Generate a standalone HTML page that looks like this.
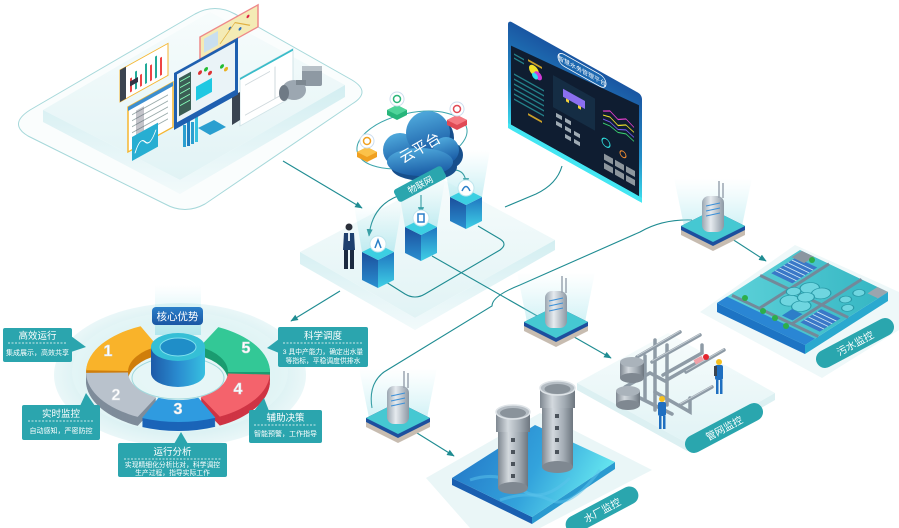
<!DOCTYPE html>
<html><head><meta charset="utf-8">
<style>
html,body{margin:0;padding:0;background:#fff;}
svg{display:block;}
text{font-family:"Liberation Sans","Noto Sans CJK SC",sans-serif;}
</style></head><body>
<svg width="899" height="528" viewBox="0 0 899 528" xmlns="http://www.w3.org/2000/svg">
<defs>
<marker id="ar" viewBox="0 0 10 10" refX="9" refY="5" markerWidth="7" markerHeight="7" orient="auto"><path d="M0,1 L10,5 L0,9 Z" fill="#1f8c92"/></marker>
<linearGradient id="beam" x1="0" y1="0" x2="0" y2="1"><stop offset="0" stop-color="#9fe6ee" stop-opacity="0"/><stop offset="1" stop-color="#7fd9e4" stop-opacity="0.6"/></linearGradient>
<linearGradient id="boxL" x1="0" y1="0" x2="0" y2="1"><stop offset="0" stop-color="#1b4f9c"/><stop offset="1" stop-color="#2a8fd0"/></linearGradient>
<linearGradient id="boxR" x1="0" y1="0" x2="0" y2="1"><stop offset="0" stop-color="#1f76c0"/><stop offset="1" stop-color="#3fd0e6"/></linearGradient>
<linearGradient id="cloudG" x1="0" y1="0" x2="0.3" y2="1"><stop offset="0" stop-color="#55b2e2"/><stop offset="1" stop-color="#1c5fa8"/></linearGradient>
<linearGradient id="scr" x1="0" y1="0" x2="0" y2="1"><stop offset="0" stop-color="#1a56a2"/><stop offset="0.6" stop-color="#238fc8"/><stop offset="1" stop-color="#3ee0ee"/></linearGradient>
<linearGradient id="tower" x1="0" y1="0" x2="1" y2="0"><stop offset="0" stop-color="#7f8891"/><stop offset="0.35" stop-color="#d3d9de"/><stop offset="0.7" stop-color="#a2abb3"/><stop offset="1" stop-color="#6d767f"/></linearGradient>
<linearGradient id="pool" x1="0" y1="0" x2="1" y2="0.3"><stop offset="0" stop-color="#2070c4"/><stop offset="0.6" stop-color="#33a3dc"/><stop offset="1" stop-color="#62e2ee"/></linearGradient>
<linearGradient id="cyl" x1="0" y1="0" x2="1" y2="0"><stop offset="0" stop-color="#1d5aa8"/><stop offset="0.5" stop-color="#2a8cd0"/><stop offset="1" stop-color="#37c0e0"/></linearGradient>
<linearGradient id="srv" x1="0" y1="0" x2="1" y2="0"><stop offset="0" stop-color="#9aa6b1"/><stop offset="0.4" stop-color="#e6ebef"/><stop offset="1" stop-color="#8c98a4"/></linearGradient>
<radialGradient id="base" cx="0.5" cy="0.5" r="0.5"><stop offset="0" stop-color="#eef9fa"/><stop offset="0.75" stop-color="#d8f0f2"/><stop offset="1" stop-color="#eaf7f8"/></radialGradient>
<linearGradient id="plat" x1="0" y1="0" x2="0" y2="1"><stop offset="0" stop-color="#f7fcfc"/><stop offset="1" stop-color="#e1f3f5"/></linearGradient>
<linearGradient id="side" x1="0" y1="0" x2="0" y2="1"><stop offset="0" stop-color="#d3eef1"/><stop offset="1" stop-color="#f2fafb"/></linearGradient>
<linearGradient id="tag" x1="0" y1="0" x2="0" y2="1"><stop offset="0" stop-color="#2b7fc9"/><stop offset="1" stop-color="#1a57a4"/></linearGradient>
<linearGradient id="plant" x1="0" y1="0" x2="1" y2="1"><stop offset="0" stop-color="#5fd3da"/><stop offset="1" stop-color="#34b5c2"/></linearGradient>
<path id="sO" d="M86.1,370.3 A92,50 0 0 1 140.6,326.3 L157.7,346.4 A50,28 0 0 0 128,371 Z"/>
<path id="sG" d="M137.7,416.9 A92,50 0 0 1 86,372.9 L128,372.5 A50,28 0 0 0 156.1,397.2 Z"/>
<path id="sB" d="M215.4,417.7 A92,50 0 0 1 142.1,418 L158.5,397.8 A50,28 0 0 0 198.3,397.6 Z"/>
<path id="sR" d="M269.9,374.6 A92,50 0 0 1 219.8,416.6 L200.7,397 A50,28 0 0 0 227.9,373.5 Z"/>
<path id="sN" d="M218.3,327.1 A92,50 0 0 1 270,372 L228,372 A50,28 0 0 0 199.9,346.8 Z"/>
</defs>

<!-- ============ TOP-LEFT PLATFORM ============ -->
<path d="M30,110 L195,14 Q215,3 235,14 L352,80 Q372,92 352,104 L205,204 Q185,215 165,204 L28,136 Q8,124 30,110 Z" fill="#fafdfd" stroke="#a6d8da" stroke-width="1"/>
<polygon points="43,110 210,12 345,85 180,180" fill="url(#plat)"/>
<polygon points="43,110 180,180 345,85 345,97 180,194 43,122" fill="url(#side)"/>
<!-- pink map -->
<g transform="translate(200,37) skewY(-29)"><rect x="0" y="0" width="58" height="22" fill="#f4ebb5" stroke="#ee8a8a" stroke-width="1.5"/><rect x="4" y="4" width="14" height="14" fill="#c9dff0"/><circle cx="30" cy="8" r="1.5" fill="#2a6fc0"/><circle cx="40" cy="14" r="1.5" fill="#2a6fc0"/><circle cx="48" cy="6" r="1.5" fill="#d24"/><path d="M20,18 L35,5 L50,16" stroke="#e0b040" fill="none"/></g>
<!-- orange bar chart -->
<g transform="translate(120,70) skewY(-29)"><rect x="0" y="0" width="48" height="32" fill="#fff" stroke="#f5b630" stroke-width="1"/><rect x="0" y="0" width="6" height="32" fill="#3b4450"/><rect x="10" y="14" width="2" height="14" fill="#e44"/><rect x="15" y="10" width="2" height="18" fill="#2a9"/><rect x="20" y="16" width="2" height="12" fill="#e44"/><rect x="25" y="8" width="2" height="20" fill="#2a9"/><rect x="30" y="12" width="2" height="16" fill="#e44"/><rect x="35" y="6" width="2" height="22" fill="#2a9"/><rect x="40" y="10" width="2" height="18" fill="#e44"/><rect x="10" y="17" width="8" height="5" fill="#334"/></g>
<!-- table -->
<g transform="translate(128,107) skewY(-29)"><rect x="0" y="0" width="45" height="45" fill="#fff" stroke="#f5b630" stroke-width="1.5"/><rect x="0" y="0" width="45" height="4" fill="#3c8ed0"/><g stroke="#9aa" stroke-width="1"><line x1="4" y1="10" x2="40" y2="10"/><line x1="4" y1="16" x2="40" y2="16"/><line x1="4" y1="22" x2="40" y2="22"/><line x1="4" y1="28" x2="40" y2="28"/><line x1="4" y1="34" x2="40" y2="34"/></g><rect x="8" y="8" width="8" height="30" fill="#556" opacity="0.35"/></g>
<!-- teal chart -->
<g transform="translate(132,137) skewY(-29)"><rect x="0" y="0" width="26" height="24" fill="#27aed2"/><path d="M3,18 Q8,4 13,12 T24,6" stroke="#fff" fill="none" stroke-width="1"/></g>
<rect x="183" y="125" width="3" height="22" fill="#2a9fd0"/><rect x="187" y="118" width="3" height="28" fill="#1f7fc0"/><rect x="191" y="122" width="3" height="22" fill="#2a9fd0"/><rect x="195" y="110" width="3" height="32" fill="#37c2e0"/>
<!-- right white panel -->
<g transform="translate(240,78) skewY(-29)"><rect x="0" y="0" width="53" height="48" fill="#fff" stroke="#d2e4e8" stroke-width="1"/><rect x="0" y="0" width="53" height="2" fill="#39bcc9"/><g stroke="#cfd8dc"><line x1="5" y1="10" x2="30" y2="10"/><line x1="5" y1="40" x2="45" y2="40"/><line x1="35" y1="8" x2="35" y2="40"/></g></g>
<!-- central monitor -->
<polygon points="232,96 240,92 240,120 232,125" fill="#3a4552"/>
<g transform="translate(174,73) skewY(-29)"><rect x="0" y="0" width="64" height="57" fill="#1e5fb0"/><rect x="3" y="3" width="58" height="48" fill="#eaf3f7"/><rect x="5" y="8" width="12" height="38" fill="#3b5e55"/><g stroke="#8fb" stroke-width="1"><line x1="6" y1="12" x2="16" y2="12"/><line x1="6" y1="18" x2="16" y2="18"/><line x1="6" y1="24" x2="16" y2="24"/><line x1="6" y1="30" x2="16" y2="30"/><line x1="6" y1="36" x2="16" y2="36"/></g><rect x="22" y="26" width="16" height="14" fill="#1fc8e2"/><circle cx="26" cy="14" r="2" fill="#d33"/><circle cx="32" cy="14" r="2" fill="#2b3"/><circle cx="36" cy="20" r="2" fill="#d33"/><circle cx="48" cy="20" r="2" fill="#2b3"/><circle cx="52" cy="25" r="2" fill="#e9b020"/></g>
<polygon points="198,128 214,120 226,127 210,135" fill="#2a9fd0"/>
<!-- motor -->
<rect x="302" y="66" width="20" height="20" rx="2" fill="#8e99a3"/><rect x="302" y="66" width="20" height="5" fill="#b8c1c8"/>
<ellipse cx="294" cy="90" rx="12" ry="10" fill="#9ca7b1"/><ellipse cx="284" cy="93" rx="5" ry="8" fill="#6f7a85"/><rect x="296" y="80" width="10" height="5" fill="#7d8891"/>

<!-- ============ MIDDLE PLATFORM ============ -->
<polygon points="300,252 440,178 555,240 415,318" fill="url(#plat)"/>
<polygon points="300,252 415,318 555,240 555,250 415,330 300,264" fill="url(#side)"/>

<!-- ============ OTHER PLATFORMS ============ -->
<!-- sewage light platform -->
<polygon points="700,312 795,245 899,292 899,330 822,378" fill="#eef8f9"/>
<!-- pipe platform -->
<polygon points="577,383 668,333 775,393 687,443" fill="url(#plat)"/>
<polygon points="577,383 687,443 775,393 775,400 687,451 577,390" fill="#dcf0f2"/>
<!-- water plant light platform -->
<polygon points="426,478 540,413 652,470 540,528 470,528" fill="#eaf6f7"/>

<!-- ============ CONNECTORS ============ -->
<g stroke="#1f8c92" stroke-width="1.1" fill="none">
<line x1="283" y1="161" x2="362" y2="208" marker-end="url(#ar)"/>
<line x1="340" y1="291" x2="291" y2="321" marker-end="url(#ar)"/>
<path d="M562,166 Q557,184 536,194 L505,207"/>
<line x1="432" y1="256" x2="611" y2="358" marker-end="url(#ar)"/>
<path d="M692,220 Q662,219 640,232 L520,285 Q492,296 492,306 L384,372 Q368,384 372,408"/>
<line x1="729" y1="237" x2="766" y2="261" marker-end="url(#ar)"/>
<line x1="417" y1="433" x2="454" y2="456" marker-end="url(#ar)"/>
<path d="M386,282 L405,294 Q415,300 425,294 L500,250 Q508,244 500,239 L478,226"/>
<path d="M398,196 Q372,206 369,236" marker-end="url(#ar)"/>
<line x1="421" y1="195" x2="421" y2="214" marker-end="url(#ar)"/>
<path d="M446,171 Q466,166 466,185" marker-end="url(#ar)"/>
</g>
<ellipse cx="412" cy="140" rx="56" ry="27" transform="rotate(-12 412 140)" fill="none" stroke="#3aa4aa" stroke-width="1"/>

<!-- ============ BOXES ============ -->
<polygon points="450,197 482,197 490,150 442,150" fill="url(#beam)" opacity="0.7"/>
<polygon points="405,227 437,227 445,180 397,180" fill="url(#beam)" opacity="0.7"/>
<polygon points="362,252 394,252 402,205 354,205" fill="url(#beam)" opacity="0.7"/>
<g id="box1">
<polygon points="362,252 378,260 378,288 362,280" fill="url(#boxL)"/>
<polygon points="378,260 394,252 394,280 378,288" fill="url(#boxR)"/>
<polygon points="362,252 378,244 394,252 378,260" fill="#3ccfe2"/>
<circle cx="378" cy="244" r="8" fill="#fff" stroke="#bfe6ee"/><path d="M375,248 L378,240 L381,248" stroke="#2a7fc8" fill="none" stroke-width="1.5"/>
</g>
<polygon points="405,227 421,235 421,261 405,253" fill="url(#boxL)"/>
<polygon points="421,235 437,227 437,253 421,261" fill="url(#boxR)"/>
<polygon points="405,227 421,219 437,227 421,235" fill="#3ccfe2"/>
<circle cx="421" cy="218" r="8" fill="#fff" stroke="#bfe6ee"/><rect x="418" y="214" width="6" height="8" fill="none" stroke="#2a7fc8" stroke-width="1.5"/>
<polygon points="450,197 466,205 466,229 450,221" fill="url(#boxL)"/>
<polygon points="466,205 482,197 482,221 466,229" fill="url(#boxR)"/>
<polygon points="450,197 466,189 482,197 466,205" fill="#3ccfe2"/>
<circle cx="466" cy="188" r="8" fill="#fff" stroke="#bfe6ee"/><path d="M462,191 Q466,182 470,191" stroke="#2a7fc8" fill="none" stroke-width="1.5"/>

<!-- person -->
<circle cx="349" cy="227" r="3.5" fill="#2b2f3a"/>
<path d="M344,233 L354,233 L355,250 L343,250 Z" fill="#1d3f6e"/>
<rect x="348" y="233" width="2" height="8" fill="#dbe8f0"/>
<rect x="344" y="250" width="4" height="19" fill="#1b2a40"/><rect x="350" y="250" width="4" height="19" fill="#1b2a40"/>

<!-- ============ CLOUD & ICONS ============ -->
<g transform="translate(4,5)" fill="#174f8c">
<circle cx="400" cy="150" r="17"/><circle cx="428" cy="133" r="22"/><circle cx="446" cy="150" r="13"/><ellipse cx="420" cy="162" rx="33" ry="14"/></g>
<g fill="url(#cloudG)">
<circle cx="400" cy="150" r="17"/><circle cx="428" cy="133" r="22"/><circle cx="446" cy="150" r="13"/><ellipse cx="420" cy="162" rx="33" ry="14"/></g>
<text x="420" y="153" font-size="15" fill="#fff" text-anchor="middle" transform="rotate(-30 420 148)">云平台</text>
<!-- small icons -->
<g><polygon points="387,110 397,105 407,110 407,115 397,120 387,115" fill="#27b57a"/><polygon points="387,110 397,105 407,110 397,115" fill="#4fd49a"/><circle cx="397" cy="99" r="7" fill="#fff" stroke="#cde"/><circle cx="397" cy="99" r="3.5" fill="none" stroke="#2bb57a" stroke-width="1.5"/></g>
<g><polygon points="447,120 457,115 467,120 467,125 457,130 447,125" fill="#e04a55"/><polygon points="447,120 457,115 467,120 457,125" fill="#f57a82"/><circle cx="457" cy="109" r="7" fill="#fff" stroke="#cde"/><circle cx="457" cy="109" r="3.5" fill="none" stroke="#e04a55" stroke-width="1.5"/></g>
<g><polygon points="357,152 367,147 377,152 377,157 367,162 357,157" fill="#f0a020"/><polygon points="357,152 367,147 377,152 367,157" fill="#fbc24a"/><circle cx="367" cy="141" r="7" fill="#fff" stroke="#cde"/><circle cx="367" cy="141" r="3.5" fill="none" stroke="#f0a020" stroke-width="1.5"/></g>
<!-- banner -->
<g transform="rotate(-28 420 184)"><rect x="393" y="177" width="54" height="14" rx="3" fill="#2aa6ae"/><text x="420" y="188" font-size="9" fill="#fff" text-anchor="middle">物联网</text></g>

<!-- ============ DASHBOARD SCREEN ============ -->
<g transform="translate(508,20) skewY(29.2)">
<rect x="0" y="0" width="134" height="108" rx="4" fill="url(#scr)"/>
<polygon points="3,24 131,12 131,103 3,103" fill="#0f1d31"/>
<rect x="50" y="3" width="48" height="12" rx="6" fill="#1c68b0" stroke="#fff" stroke-width="0.8"/>
<text x="74" y="11.5" font-size="6" fill="#fff" text-anchor="middle">智慧水务管理平台</text>
<circle cx="26" cy="36" r="5" fill="#f2e22a"/><circle cx="30" cy="39" r="4" fill="#d13ad6"/><circle cx="27" cy="41" r="3" fill="#2ee0f0"/>
<g fill="#2a9aa0" opacity="0.8"><rect x="6" y="30" width="10" height="1.5"/><rect x="6" y="34" width="10" height="1.5"/><rect x="6" y="50" width="30" height="1.5"/><rect x="6" y="55" width="30" height="1.5"/><rect x="6" y="60" width="30" height="1.5"/><rect x="6" y="65" width="30" height="1.5"/><rect x="6" y="70" width="30" height="1.5"/><rect x="6" y="75" width="30" height="1.5"/></g>
<rect x="20" y="28" width="14" height="2" fill="#c9a02a"/><rect x="20" y="82" width="14" height="2" fill="#c9a02a"/>
<rect x="45" y="30" width="42" height="32" fill="#16324a" opacity="0.8"/>
<rect x="55" y="38" width="22" height="8" fill="#8b6ff0"/><rect x="58" y="46" width="3" height="3" fill="#f2d23a"/><rect x="70" y="46" width="3" height="3" fill="#f2d23a"/>
<polyline points="95,38 102,34 110,38 118,33 126,37" stroke="#e840d0" fill="none" stroke-width="1"/>
<polyline points="95,42 102,40 110,44 118,39 126,42" stroke="#f2e22a" fill="none" stroke-width="1"/>
<polyline points="95,46 102,45 110,48 118,44 126,47" stroke="#7a5af0" fill="none" stroke-width="1"/>
<polyline points="95,50 102,49 110,51 118,48 126,51" stroke="#3ad070" fill="none" stroke-width="1"/>
<g fill="#b9c4cc" opacity="0.85"><rect x="48" y="66" width="6" height="4"/><rect x="57" y="66" width="6" height="4"/><rect x="48" y="74" width="6" height="4"/><rect x="57" y="74" width="6" height="4"/><rect x="66" y="74" width="6" height="4"/><rect x="57" y="82" width="6" height="4"/><rect x="66" y="82" width="6" height="4"/></g>
<circle cx="98" cy="68" r="4" fill="none" stroke="#2ee0e0" stroke-width="1"/><circle cx="115" cy="70" r="3" fill="none" stroke="#f08a30" stroke-width="1"/>
<g fill="#8d969d"><rect x="96" y="80" width="9" height="6"/><rect x="107" y="80" width="9" height="6"/><rect x="118" y="80" width="9" height="6"/><rect x="96" y="89" width="9" height="6"/><rect x="107" y="89" width="9" height="6"/><rect x="118" y="89" width="9" height="6"/></g>
<rect x="0" y="103" width="134" height="5" fill="#44e6f2"/>
</g>

<!-- ============ SERVERS ============ -->
<!-- A -->
<polygon points="684,226 742,226 752,178 674,178" fill="url(#beam)" opacity="0.6"/>
<polygon points="681,226 713,210 745,226 745,235 713,251 681,235" fill="#c7bcb0"/>
<polygon points="681,226 713,210 745,226 745,230 713,246 681,230" fill="#1d4f9e"/>
<polygon points="681,226 713,210 745,226 713,242" fill="#45c8d2"/>
<rect x="702" y="196" width="22" height="36" rx="7" fill="url(#srv)"/>
<g stroke="#3a8fd8" stroke-width="1"><line x1="706" y1="206" x2="720" y2="203"/><line x1="706" y1="211" x2="720" y2="208"/><line x1="706" y1="216" x2="720" y2="213"/></g>
<line x1="719" y1="198" x2="719" y2="181" stroke="#9aa5b0" stroke-width="1.5"/><line x1="723" y1="198" x2="723" y2="183" stroke="#9aa5b0" stroke-width="1.5"/>
<!-- B -->
<polygon points="527,322 585,322 595,272 517,272" fill="url(#beam)" opacity="0.6"/>
<polygon points="524,322 556,306 588,322 588,331 556,347 524,331" fill="#c7bcb0"/>
<polygon points="524,322 556,306 588,322 588,326 556,342 524,326" fill="#1d4f9e"/>
<polygon points="524,322 556,306 588,322 556,338" fill="#45c8d2"/>
<rect x="545" y="291" width="22" height="37" rx="7" fill="url(#srv)"/>
<g stroke="#3a8fd8" stroke-width="1"><line x1="549" y1="301" x2="563" y2="298"/><line x1="549" y1="306" x2="563" y2="303"/><line x1="549" y1="311" x2="563" y2="308"/></g>
<line x1="562" y1="293" x2="562" y2="276" stroke="#9aa5b0" stroke-width="1.5"/><line x1="566" y1="293" x2="566" y2="278" stroke="#9aa5b0" stroke-width="1.5"/>
<!-- C -->
<polygon points="369,418 427,418 437,368 359,368" fill="url(#beam)" opacity="0.6"/>
<polygon points="366,418 398,402 430,418 430,427 398,443 366,427" fill="#c7bcb0"/>
<polygon points="366,418 398,402 430,418 430,422 398,438 366,422" fill="#1d4f9e"/>
<polygon points="366,418 398,402 430,418 398,434" fill="#45c8d2"/>
<rect x="387" y="386" width="22" height="38" rx="7" fill="url(#srv)"/>
<g stroke="#3a8fd8" stroke-width="1"><line x1="391" y1="396" x2="405" y2="393"/><line x1="391" y1="401" x2="405" y2="398"/><line x1="391" y1="406" x2="405" y2="403"/></g>
<line x1="404" y1="388" x2="404" y2="371" stroke="#9aa5b0" stroke-width="1.5"/><line x1="408" y1="388" x2="408" y2="373" stroke="#9aa5b0" stroke-width="1.5"/>

<!-- ============ SEWAGE PLANT ============ -->
<polygon points="717,303 805,345 805,354 717,312" fill="#1d74c4"/>
<polygon points="805,345 888,292 888,301 805,354" fill="#2aa9cf"/>
<g transform="matrix(0.88,0.42,0.83,-0.53,717,303)">
<rect x="0" y="0" width="100" height="100" fill="url(#plant)"/>
<rect x="0" y="0" width="100" height="12" fill="#2a86d4"/>
<g stroke="#73899a" stroke-width="3" vector-effect="non-scaling-stroke" fill="none">
<line x1="2" y1="16" x2="100" y2="16" vector-effect="non-scaling-stroke"/>
<line x1="33" y1="16" x2="33" y2="100" vector-effect="non-scaling-stroke"/>
<line x1="70" y1="16" x2="70" y2="100" vector-effect="non-scaling-stroke"/>
<line x1="0" y1="52" x2="100" y2="52" vector-effect="non-scaling-stroke"/>
</g>
<g fill="#6fd6e0" stroke="#2a9aa8" stroke-width="1" vector-effect="non-scaling-stroke">
<circle cx="45" cy="40" r="8"/><circle cx="58" cy="40" r="8"/><circle cx="45" cy="64" r="8"/><circle cx="58" cy="64" r="8"/><circle cx="52" cy="52" r="7"/><circle cx="38" cy="52" r="6"/>
<circle cx="80" cy="70" r="5"/><circle cx="90" cy="62" r="5"/><circle cx="82" cy="84" r="5"/>
</g>
<g fill="#3a78c8"><rect x="5" y="60" width="24" height="30"/><rect x="74" y="22" width="22" height="25"/></g>
<g stroke="#cfe9f5" stroke-width="1" vector-effect="non-scaling-stroke"><line x1="5" y1="65" x2="29" y2="65"/><line x1="5" y1="70" x2="29" y2="70"/><line x1="5" y1="75" x2="29" y2="75"/><line x1="5" y1="80" x2="29" y2="80"/><line x1="5" y1="85" x2="29" y2="85"/><line x1="74" y1="27" x2="96" y2="27"/><line x1="74" y1="32" x2="96" y2="32"/><line x1="74" y1="37" x2="96" y2="37"/><line x1="74" y1="42" x2="96" y2="42"/></g>
<rect x="55" y="20" width="12" height="12" fill="#2d7ec8"/>
<rect x="2" y="88" width="14" height="12" fill="#8a96a0"/>
<rect x="88" y="88" width="12" height="12" fill="#9aa5ae"/>
</g>
<g fill="#2cae4a"><circle cx="812" cy="260" r="3"/><circle cx="745" cy="298" r="3"/><circle cx="763" cy="311" r="3"/><circle cx="775" cy="318" r="3"/><circle cx="786" cy="326" r="3"/></g>
<g transform="rotate(-28 855 343)"><rect x="812" y="334" width="86" height="18" rx="9" fill="#2aa6ae"/><text x="855" y="347" font-size="10" fill="#fff" text-anchor="middle">污水监控</text></g>

<!-- ============ PIPE NETWORK ============ -->
<g stroke="#8e9ba6" stroke-width="3.5" fill="none" stroke-linecap="round">
<path d="M637,357 L680,332"/><path d="M652,362 L700,335"/><path d="M663,375 L702,353 L702,345"/>
<path d="M625,387 L650,373 L665,381 L700,361"/><path d="M655,340 L655,410"/><path d="M667,345 L667,405"/>
<path d="M645,356 L645,400"/><path d="M655,392 L690,412 L690,398"/><path d="M680,405 L712,387"/>
<path d="M686,372 L724,350"/><path d="M640,398 L672,414"/>
</g>
<g stroke="#c9d1d7" stroke-width="1" fill="none">
<path d="M637,356 L680,331"/><path d="M652,361 L700,334"/><path d="M686,371 L724,349"/><path d="M680,404 L712,386"/>
</g>
<rect x="620" y="362" width="24" height="16" fill="url(#tower)"/><ellipse cx="632" cy="362" rx="12" ry="5" fill="#aab3bb"/><ellipse cx="632" cy="378" rx="12" ry="5" fill="#7f8891"/>
<rect x="616" y="391" width="24" height="14" fill="url(#tower)"/><ellipse cx="628" cy="391" rx="12" ry="5" fill="#aab3bb"/><ellipse cx="628" cy="405" rx="12" ry="5" fill="#7f8891"/>
<rect x="694" y="358" width="9" height="5" fill="#f1a0a8" transform="rotate(-28 698 360)"/><circle cx="706" cy="357" r="3" fill="#e52630"/>
<!-- workers -->
<circle cx="719" cy="362" r="3" fill="#f5c020"/><rect x="715" y="365" width="8" height="15" rx="2" fill="#1f6fc0"/><rect x="714" y="366" width="3" height="10" fill="#3a4552"/><rect x="716" y="380" width="2.5" height="14" fill="#1f6fc0"/><rect x="720" y="380" width="2.5" height="14" fill="#1f6fc0"/>
<circle cx="662" cy="399" r="3" fill="#f5c020"/><rect x="658" y="402" width="8" height="14" rx="2" fill="#1f6fc0"/><rect x="659" y="416" width="2.5" height="13" fill="#1f6fc0"/><rect x="663" y="416" width="2.5" height="13" fill="#1f6fc0"/>
<g transform="rotate(-28 724 428)"><rect x="681" y="419" width="86" height="18" rx="9" fill="#2aa6ae"/><text x="724" y="432" font-size="10" fill="#fff" text-anchor="middle">管网监控</text></g>

<!-- ============ WATER PLANT ============ -->
<polygon points="452,478 532,517 532,524 452,485" fill="#1a5fb0"/>
<polygon points="532,517 615,462 615,469 532,524" fill="#2a9ad0"/>
<polygon points="452,478 535,425 615,462 532,517" fill="url(#pool)"/>
<path d="M470,480 Q500,470 520,488 T570,478" stroke="#5cc4ec" stroke-width="3" fill="none" opacity="0.5"/>
<path d="M500,500 Q530,490 550,500 T600,470" stroke="#5cc4ec" stroke-width="3" fill="none" opacity="0.5"/>
<!-- tower 1 -->
<rect x="498" y="412" width="30" height="76" fill="url(#tower)"/>
<ellipse cx="513" cy="488" rx="15" ry="6" fill="#7f8891"/>
<rect x="496" y="412" width="34" height="20" fill="url(#tower)"/>
<ellipse cx="513" cy="412" rx="17" ry="7" fill="#b6bec5" stroke="#dfe4e8" stroke-width="1.5"/><ellipse cx="513" cy="413" rx="13" ry="5" fill="#8a939b"/>
<g fill="#4b535b"><rect x="511" y="438" width="4" height="4"/><rect x="511" y="450" width="4" height="4"/><rect x="511" y="462" width="4" height="4"/><rect x="511" y="474" width="4" height="4"/></g>
<!-- tower 2 -->
<rect x="542" y="388" width="31" height="79" fill="url(#tower)"/>
<ellipse cx="557.5" cy="467" rx="15.5" ry="6" fill="#7f8891"/>
<rect x="540" y="388" width="35" height="20" fill="url(#tower)"/>
<ellipse cx="557.5" cy="388" rx="17.5" ry="7" fill="#b6bec5" stroke="#dfe4e8" stroke-width="1.5"/><ellipse cx="557.5" cy="389" rx="13" ry="5" fill="#8a939b"/>
<g fill="#4b535b"><rect x="555" y="414" width="4" height="4"/><rect x="555" y="426" width="4" height="4"/><rect x="555" y="438" width="4" height="4"/><rect x="555" y="450" width="4" height="4"/></g>
<g transform="rotate(-28 602 510)"><rect x="562" y="501" width="80" height="18" rx="9" fill="#2aa6ae"/><text x="602" y="514" font-size="10" fill="#fff" text-anchor="middle">水厂监控</text></g>

<!-- ============ CORE ADVANTAGE RING ============ -->
<ellipse cx="180" cy="375" rx="126" ry="72" fill="url(#base)"/>
<ellipse cx="180" cy="372" rx="108" ry="60" fill="#e6f6f7" opacity="0.6"/>
<rect x="155" y="285" width="46" height="50" fill="url(#beam)" opacity="0.8"/>
<g fill="#cf7e0c"><use href="#sO" y="9"/><use href="#sO" y="8"/><use href="#sO" y="7"/><use href="#sO" y="6"/><use href="#sO" y="5"/><use href="#sO" y="4"/><use href="#sO" y="3"/><use href="#sO" y="2"/><use href="#sO" y="1"/></g>
<use href="#sO" fill="#f9b32a"/>
<g fill="#1b9c70"><use href="#sN" y="9"/><use href="#sN" y="8"/><use href="#sN" y="7"/><use href="#sN" y="6"/><use href="#sN" y="5"/><use href="#sN" y="4"/><use href="#sN" y="3"/><use href="#sN" y="2"/><use href="#sN" y="1"/></g>
<use href="#sN" fill="#33c896"/>
<g fill="#7f8c9a"><use href="#sG" y="9"/><use href="#sG" y="8"/><use href="#sG" y="7"/><use href="#sG" y="6"/><use href="#sG" y="5"/><use href="#sG" y="4"/><use href="#sG" y="3"/><use href="#sG" y="2"/><use href="#sG" y="1"/></g>
<use href="#sG" fill="#b9c2cc"/>
<g fill="#cf3444"><use href="#sR" y="9"/><use href="#sR" y="8"/><use href="#sR" y="7"/><use href="#sR" y="6"/><use href="#sR" y="5"/><use href="#sR" y="4"/><use href="#sR" y="3"/><use href="#sR" y="2"/><use href="#sR" y="1"/></g>
<use href="#sR" fill="#f4636c"/>
<g fill="#1b64b8"><use href="#sB" y="9"/><use href="#sB" y="8"/><use href="#sB" y="7"/><use href="#sB" y="6"/><use href="#sB" y="5"/><use href="#sB" y="4"/><use href="#sB" y="3"/><use href="#sB" y="2"/><use href="#sB" y="1"/></g>
<use href="#sB" fill="#2f9be0"/>
<g font-size="16" font-weight="bold" fill="#fff" text-anchor="middle" stroke="#d7dde2" stroke-width="0.6">
<text x="108" y="356">1</text><text x="116" y="400">2</text><text x="178" y="414">3</text><text x="238" y="394">4</text><text x="246" y="353">5</text></g>
<!-- cylinder -->
<ellipse cx="178" cy="378" rx="46" ry="21" fill="none" stroke="#9fd8dc" stroke-width="1"/>
<path d="M151,347 L151,373 A27,14 0 0 0 205,373 L205,347 Z" fill="url(#cyl)"/>
<ellipse cx="178" cy="347" rx="27" ry="14" fill="#35bfd6"/>
<ellipse cx="178" cy="347" rx="18" ry="9" fill="#1f8ec8" stroke="#7ee0ee" stroke-width="1"/>
<rect x="152" y="307" width="51" height="18" rx="4" fill="url(#tag)"/>
<text x="177.5" y="320" font-size="10.5" fill="#fff" text-anchor="middle">核心优势</text>

<!-- labels -->
<g fill="#2ba5ae">
<rect x="3" y="328" width="69" height="34" rx="2"/><polygon points="71,336 86,347 71,352"/>
<rect x="22" y="405" width="78" height="35" rx="2"/><polygon points="80,406 86,393 95,406"/>
<rect x="118" y="443" width="109" height="34" rx="2"/><polygon points="174,444 181,432 188,444"/>
<rect x="249" y="410" width="73" height="33" rx="2"/><polygon points="254,411 264,398 269,411"/>
<rect x="278" y="327" width="90" height="40" rx="2"/><polygon points="279,339 267,348 279,353"/>
</g>
<g stroke="#fff" stroke-width="0.8" stroke-dasharray="2,1.5">
<line x1="8" y1="343" x2="67" y2="343"/><line x1="28" y1="421" x2="94" y2="421"/><line x1="124" y1="459" x2="221" y2="459"/><line x1="254" y1="425" x2="317" y2="425"/><line x1="283" y1="343" x2="363" y2="343"/>
</g>
<g fill="#fff" text-anchor="middle">
<text x="37.5" y="339" font-size="9.5">高效运行</text><text x="37.5" y="355" font-size="7">集成展示，高效共享</text>
<text x="61" y="417" font-size="9.5">实时监控</text><text x="61" y="433" font-size="7">自动感知，严密防控</text>
<text x="172.5" y="455" font-size="9.5">运行分析</text><text x="172.5" y="467" font-size="6.8">实现精细化分析比对，科学调控</text><text x="172.5" y="475" font-size="6.8">生产过程，指导实际工作</text>
<text x="285.5" y="421" font-size="9.5">辅助决策</text><text x="285.5" y="436" font-size="7">智能预警，工作指导</text>
<text x="323" y="339" font-size="9.5">科学调度</text><text x="323" y="354" font-size="6.8">3 具中产能力，确定出水量</text><text x="323" y="363" font-size="6.8">等指标，平稳调度供排水</text>
</g>
</svg>
</body></html>
